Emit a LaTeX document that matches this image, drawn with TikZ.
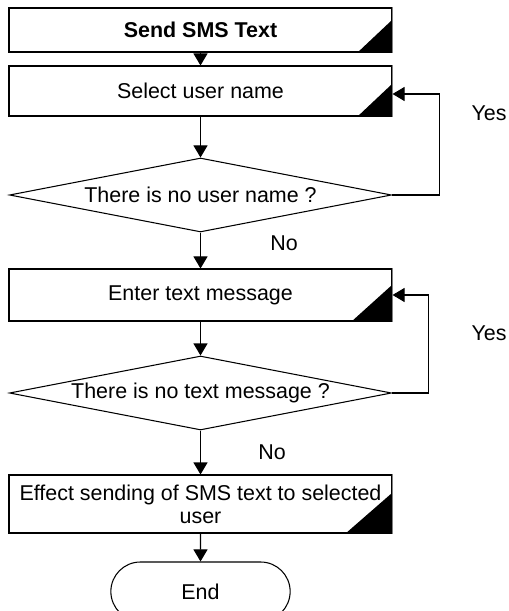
\documentclass[tikz,border=0pt]{standalone}
\usepackage{fontspec}
\setmainfont{Liberation Sans}
\usetikzlibrary{arrows.meta,positioning,shapes.geometric,shapes.misc}
\tikzset{
  sbox/.style={draw,fill=white,line width=0.6pt,minimum width=7.66cm,inner sep=2pt,align=center},
  sdec/.style={draw,diamond,aspect=5.16,line width=0.6pt,minimum width=7.64cm,minimum height=1.48cm,inner sep=0pt},
  sterm/.style={draw,rounded rectangle,line width=0.6pt,minimum width=3.82cm,minimum height=1.18cm},
  sarr/.style={-{Triangle[length=2.4mm,width=2.8mm]},line width=0.6pt},
  sline/.style={line width=0.6pt},
  slab/.style={inner sep=0pt}
}

\begin{document}
\begin{tikzpicture}[font=\fontsize{12.2}{13}\selectfont]
  \useasboundingbox (0,0) rectangle (10.16,-12.22);
  \node[sbox,minimum height=0.88cm,font=\fontsize{12.2}{13}\selectfont\bfseries] (send) at (4.01,-0.60) {Send SMS Text};
  \node[sbox,minimum height=1.00cm] (select) at (4.01,-1.82) {Select user name};
  \node[sdec] (nouser) at (4.01,-3.90) {There is no user name ?};
  \node[sbox,minimum height=1.04cm] (enter) at (4.01,-5.90) {Enter text message};
  \node[sdec] (notext) at (4.01,-7.86) {There is no text message ?};
  \node[sbox,minimum height=1.16cm] (effect) at (4.01,-10.08) {Effect sending of SMS text to selected\\ user};
  \node[sterm] (stop) at (4.01,-11.83) {End};
  % corner marks
  \foreach \b/\w/\h in {send/0.70/0.66,select/0.70/0.66,enter/0.82/0.74,effect/0.94/0.82}{
    \fill (\b.south east) -- ++(-\w,0) -- ++(\w,\h) -- cycle;
    \draw[sline,gray] (\b.north east) -- (\b.south east);
  }
  % flow
  \draw[sarr] (send) -- (select);
  \draw[sarr] (select) -- (nouser);
  \draw[sarr] (nouser) -- (enter);
  \draw[sarr] (enter) -- (notext);
  \draw[sarr] (notext) -- (effect);
  \draw[sarr] (effect) -- (stop);
  \draw[sarr] (nouser.east) -- ++(0.94,0) |- ([yshift=-0.06cm]select.east);
  \draw[sarr] (notext.east) -- ++(0.72,0) |- (enter.east);
  \node[slab] (yes1) at (9.78,-2.26) {Yes};
  \node[slab] (yes2) at (9.78,-6.66) {Yes};
  \node[slab] (no1) at (5.68,-4.86) {No};
  \node[slab] (no2) at (5.44,-9.04) {No};
\end{tikzpicture}
\end{document}
